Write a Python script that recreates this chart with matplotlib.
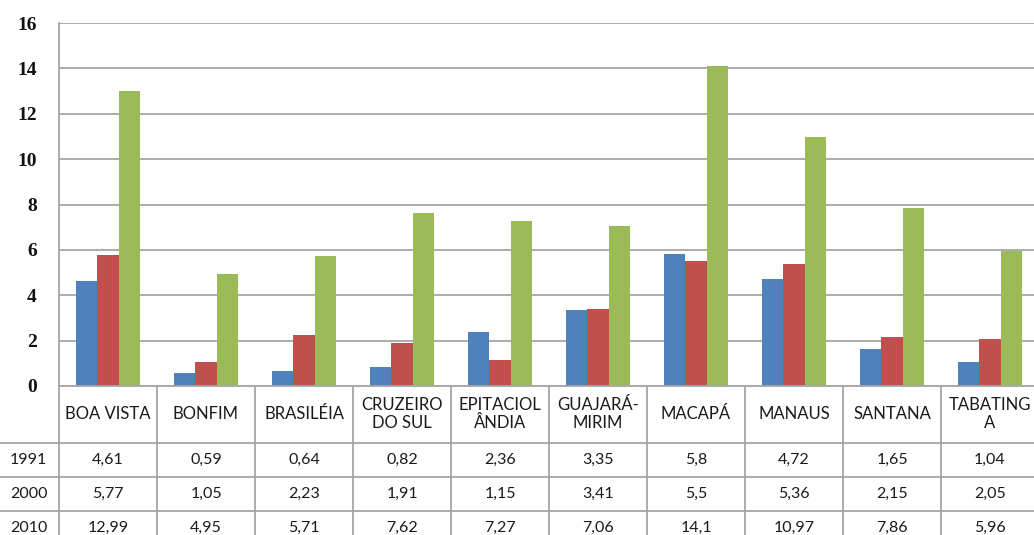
import matplotlib
matplotlib.use("Agg")
import matplotlib.pyplot as plt

cities = ['BOA VISTA', 'BONFIM', 'BRASILÉIA', 'CRUZEIRO\nDO SUL', 'EPITACIOL\nÂNDIA',
          'GUAJARÁ-\nMIRIM', 'MACAPÁ', 'MANAUS', 'SANTANA', 'TABATING\nA']
years = ['1991', '2000', '2010']
v1991 = [4.61, 0.59, 0.64, 0.82, 2.36, 3.35, 5.8, 4.72, 1.65, 1.04]
v2000 = [5.77, 1.05, 2.23, 1.91, 1.15, 3.41, 5.5, 5.36, 2.15, 2.05]
v2010 = [12.99, 4.95, 5.71, 7.62, 7.27, 7.06, 14.1, 10.97, 7.86, 5.96]
colors = ['#4F81BD', '#C0504D', '#9BBB59']

W, H = 1034, 535
GRID = '#a6a6a6'
FONT = 'Lato'
TXT = '#1a1a1a'


def fmt(v):
    return str(v).replace('.', ',')


def draw_bars(fig):
    # plot area: x from 59 px, columns 98 px wide, y=0 at row 386, y=16 at row 23
    ax = fig.add_axes([59 / W, (H - 386) / H, 980 / W, 363 / H])
    w = 0.22
    for k, series in enumerate([v1991, v2000, v2010]):
        xs = [i + (k - 1) * w for i in range(len(series))]
        ax.bar(xs, series, width=w, color=colors[k], zorder=3)
    ax.set_xlim(-0.5, 9.5)
    ax.set_ylim(0, 16)
    ax.set_yticks(range(0, 17, 2))
    ax.set_xticks([])
    ax.grid(axis='y', color=GRID, linewidth=1.3, zorder=0)
    for s in ['top', 'right', 'bottom']:
        ax.spines[s].set_visible(False)
    ax.spines['left'].set_color(GRID)
    ax.spines['left'].set_linewidth(1.3)
    ax.tick_params(axis='y', length=0, pad=16)
    for lbl in ax.get_yticklabels():
        lbl.set_fontfamily('Liberation Serif')
        lbl.set_fontweight('bold')
        lbl.set_fontsize(14)
        lbl.set_color('#111111')
    return ax


def draw_table(fig):
    # table below the plot, coordinates: x in category units, y in image rows
    tax = fig.add_axes([0, 0, 1039 / W, (H - 386) / H])
    left = -0.5 - 59 / 98
    tax.set_xlim(left, 9.5)
    tax.set_ylim(535, 386)
    tax.axis('off')
    rows = [386, 443, 477, 511, 545]
    tax.plot([-0.5, 9.5], [rows[0], rows[0]], color=GRID, lw=1.3, clip_on=False)
    for r in rows[1:]:
        tax.plot([left, 9.5], [r, r], color=GRID, lw=1.3, clip_on=False)
    for i in range(11):
        tax.plot([i - 0.5, i - 0.5], [386, 545], color=GRID, lw=1.3, clip_on=False)

    for i, c in enumerate(cities):
        tax.text(i, 414, c, ha='center', va='center', fontsize=12,
                 family=FONT, linespacing=1.15, color=TXT)
    for j, (yr, vals) in enumerate(zip(years, [v1991, v2000, v2010])):
        yc = (rows[j + 1] + rows[j + 2]) / 2
        tax.text(left + 10 / 98, yc, yr, ha='left', va='center', fontsize=11.5,
                 family=FONT, color=TXT)
        for i, v in enumerate(vals):
            tax.text(i, yc, fmt(v), ha='center', va='center', fontsize=11.5,
                     family=FONT, color=TXT)


def main():
    fig = plt.figure(figsize=(W / 100, H / 100), dpi=100)
    draw_bars(fig)
    draw_table(fig)
    fig.savefig('out.png', dpi=100)


if __name__ == "__main__":
    main()
